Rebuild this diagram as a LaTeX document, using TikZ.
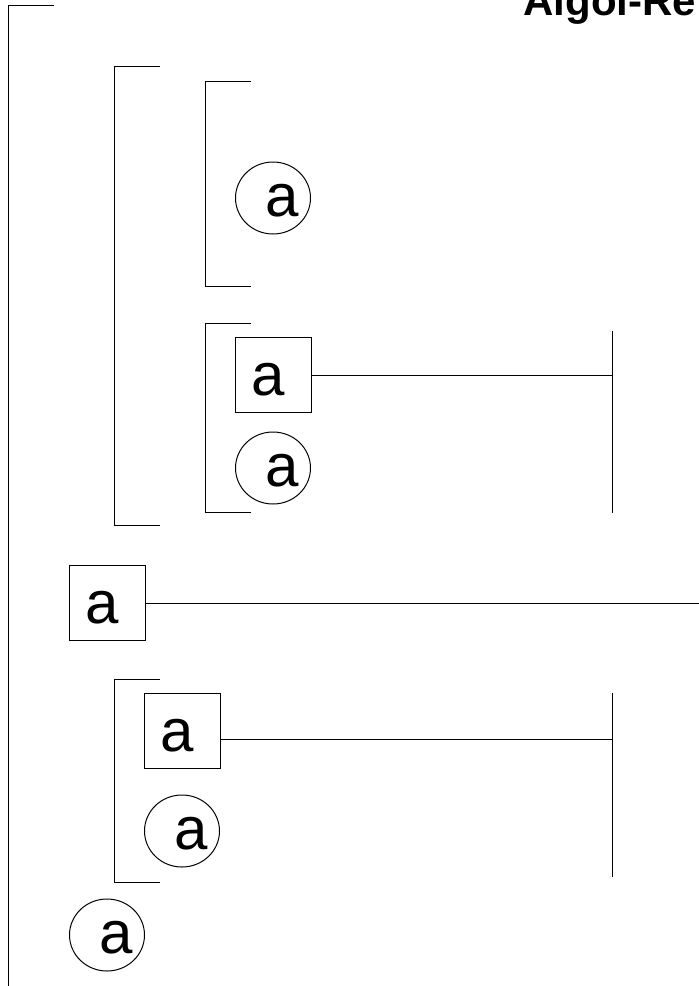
\documentclass[tikz,border=0pt]{standalone}
\usepackage{fontspec}
\setmainfont{Liberation Sans}
\usetikzlibrary{shapes.geometric,calc}
\begin{document}
\begin{tikzpicture}[x=1pt,y=-1pt,line width=1pt,
  glyph/.style={font=\fontsize{60}{72}\selectfont,inner sep=0pt},
  ring/.style={draw,ellipse,minimum width=75pt,minimum height=72pt,inner sep=0pt,
    label={[glyph,xshift=9pt,yshift=-3pt]center:a}},
  termbox/.style={draw,rectangle,minimum width=76pt,minimum height=75pt,inner sep=0pt,
    label={[glyph,xshift=-5pt,yshift=-5pt]center:a}},
  bar/.style={line width=1pt}]
\useasboundingbox (0,0) rectangle (699,986);
\clip (0,0) rectangle (699,986);

% heading, running off the right edge
\node[font=\fontsize{42}{50}\selectfont\bfseries,inner sep=0pt,anchor=base west]
  (title) at (523,15) {Algol-Re};

% nesting brackets
\draw[bar] (54,5) -- (8,5) -- (8,990);
\draw[bar] (160,66) -- (114,66) -- (114,525) -- (160,525);
\draw[bar] (251,81) -- (205,81) -- (205,286) -- (251,286);
\draw[bar] (251,323) -- (205,323) -- (205,512) -- (251,512);
\draw[bar] (160,679) -- (114,679) -- (114,882) -- (160,882);

% terminals and nonterminals
\node[ring] (c1) at (273,198) {};
\node[termbox] (k1) at (273,375) {};
\node[ring] (c2) at (273,468) {};
\node[termbox] (k0) at (107,603) {};
\node[termbox] (k2) at (182,731) {};
\node[ring] (c3) at (182,831) {};
\node[ring] (c4) at (107,935) {};

% right-hand rails
\coordinate (v1a) at (612,331);
\coordinate (v1b) at (612,513);
\coordinate (v2a) at (612,693);
\coordinate (v2b) at (612,877);
\coordinate (edge) at (700,603);
\draw[bar] (v1a) -- (v1b);
\draw[bar] (v2a) -- (v2b);

% connectors from the boxes
\draw[bar] (k1.east) -- (k1.east -| v1a);
\draw[bar] (k0.east) -- (edge);
\draw[bar] ([yshift=-8pt]k2.east) -- ([yshift=-8pt]k2.east -| v2a);
\end{tikzpicture}
\end{document}
